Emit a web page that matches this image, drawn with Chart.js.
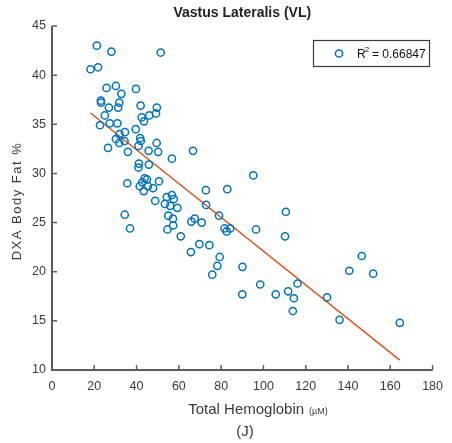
<!DOCTYPE html>
<html>
<head>
<meta charset="utf-8">
<script src="https://cdn.jsdelivr.net/npm/chart.js@4.4.0/dist/chart.umd.min.js"></script>
<style>
  html, body { margin: 0; padding: 0; background: #fff; }
  #wrap { width: 452px; height: 443px; }
</style>
</head>
<body>
<div id="wrap"><canvas id="vlChart" width="452" height="443"></canvas></div>
<script>
// Total hemoglobin (µM) vs DXA body fat (%) for the vastus lateralis
const hemoglobin = [21.2, 28.1, 51.4, 18.2, 21.8, 25.8, 30.2, 39.7, 32.8, 23.1,
  23.2, 31.8, 41.9, 26.9, 31.3, 49.6, 25.0, 42.4, 46.0, 49.2,
  43.5, 22.7, 27.3, 30.9, 34.5, 39.6, 30.2, 31.8, 34.3, 26.5,
  35.9, 41.7, 42.0, 40.9, 45.7, 49.5, 50.2, 56.7, 41.1, 40.9,
  45.8, 66.7, 35.6, 43.8, 44.9, 42.7, 41.5, 43.4, 45.4, 47.8,
  50.6, 48.8, 54.3, 56.7, 57.6, 55.9, 53.4, 59.3, 34.4, 55.0,
  57.2, 57.3, 54.6, 36.9, 60.9, 65.9, 67.5, 70.8, 69.7, 74.4,
  65.7, 72.8, 82.9, 72.9, 79.0, 81.6, 82.6, 84.3, 96.5, 79.3,
  78.2, 90.1, 75.8, 98.5, 90.0, 95.2, 110.6, 110.2, 146.5, 140.6,
  151.9, 116.1, 105.8, 111.7, 114.4, 130.1, 113.9, 136.0, 164.5, 31.9];
const bodyFat = [43.0, 42.4, 42.3, 40.6, 40.8, 38.7, 38.9, 38.6, 38.1, 37.4,
  37.2, 37.2, 36.9, 36.7, 36.7, 36.7, 35.9, 35.7, 35.9, 36.1,
  35.3, 34.9, 35.1, 35.1, 34.2, 34.5, 33.5, 33.1, 33.3, 32.6,
  32.2, 33.6, 33.3, 32.8, 32.3, 33.1, 32.2, 31.5, 31.0, 30.6,
  30.9, 32.3, 29.0, 29.5, 29.4, 29.1, 28.7, 28.2, 28.7, 28.5,
  29.2, 27.2, 27.6, 27.8, 27.4, 26.7, 26.9, 26.5, 25.8, 25.7,
  25.4, 24.7, 24.3, 24.4, 23.6, 25.1, 25.4, 25.0, 22.8, 22.7,
  22.0, 28.3, 28.4, 26.8, 25.7, 24.4, 24.1, 24.4, 24.3, 21.5,
  20.6, 20.5, 19.7, 18.7, 17.7, 29.8, 26.1, 23.6, 21.6, 20.1,
  19.8, 18.8, 17.7, 18.0, 17.3, 17.4, 16.0, 15.1, 14.8, 34.0];

// linear fit endpoints
const fitX = [18.2, 164.5];
const fitY = [36.15, 11.0];
const rSquared = '0.66847';

const xTicks = [0, 20, 40, 60, 80, 100, 120, 140, 160, 180];
const yTicks = [10, 15, 20, 25, 30, 35, 40, 45];

const NARROW = '"Liberation Sans Narrow", "Arial Narrow", "Liberation Sans", sans-serif';
const SANS = '"Liberation Sans", Arial, sans-serif';
const BLUE = '#0072BD';
const ORANGE = '#D95319';
const AXIS = '#5c5c5c';
const TEXT = '#3a3a3a';

// axis lines with inward ticks, titles and the boxed legend
const decor = {
  id: 'decor',
  afterDraw(chart) {
    const { ctx, chartArea: a, scales: { x, y } } = chart;
    ctx.save();

    ctx.strokeStyle = AXIS;
    ctx.lineWidth = 2;
    ctx.beginPath();
    ctx.moveTo(a.left, a.top);
    ctx.lineTo(a.left, a.bottom);
    ctx.lineTo(a.right, a.bottom);
    ctx.stroke();

    ctx.lineWidth = 1.5;
    ctx.beginPath();
    xTicks.forEach(v => {
      const px = x.getPixelForValue(v);
      ctx.moveTo(px, a.bottom);
      ctx.lineTo(px, a.bottom - 5);
    });
    yTicks.forEach(v => {
      const py = y.getPixelForValue(v);
      ctx.moveTo(a.left, py);
      ctx.lineTo(a.left + 5, py);
    });
    ctx.stroke();

    // chart title
    ctx.fillStyle = '#222';
    ctx.textAlign = 'center';
    ctx.textBaseline = 'middle';
    ctx.font = 'bold 14px ' + NARROW;
    ctx.fillText('Vastus Lateralis (VL)', (a.left + a.right) / 2, 13);

    // y axis title
    ctx.save();
    ctx.translate(17, (a.top + a.bottom) / 2 + 3);
    ctx.rotate(-Math.PI / 2);
    ctx.fillStyle = TEXT;
    ctx.font = '13px ' + SANS;
    ctx.letterSpacing = '1.5px';
    ctx.fillText('DXA Body Fat %', 0, 0);
    ctx.restore();

    // x axis title: main part plus a smaller unit
    ctx.fillStyle = TEXT;
    ctx.textAlign = 'left';
    ctx.textBaseline = 'alphabetic';
    ctx.font = '15px ' + NARROW;
    const main = 'Total Hemoglobin';
    const wMain = ctx.measureText(main).width;
    ctx.font = '9px ' + NARROW;
    const unit = '(µM)';
    const wUnit = ctx.measureText(unit).width;
    const total = wMain + 5 + wUnit;
    const x0 = 258 - total / 2;
    ctx.font = '15px ' + NARROW;
    ctx.fillText(main, x0, 414);
    ctx.font = '9px ' + NARROW;
    ctx.fillText(unit, x0 + wMain + 5, 414);

    ctx.textAlign = 'center';
    ctx.font = '15px ' + NARROW;
    ctx.fillText('(J)', 245, 436);

    // legend box
    const lx = 313.5, ly = 40.5, lw = 116, lh = 26;
    ctx.fillStyle = '#fff';
    ctx.fillRect(lx, ly, lw, lh);
    ctx.strokeStyle = '#3a3a3a';
    ctx.lineWidth = 1.2;
    ctx.strokeRect(lx, ly, lw, lh);

    ctx.strokeStyle = BLUE;
    ctx.lineWidth = 1.5;
    ctx.beginPath();
    ctx.arc(339, 53.5, 3.6, 0, Math.PI * 2);
    ctx.stroke();

    ctx.fillStyle = '#111';
    ctx.textAlign = 'left';
    ctx.font = '12px ' + NARROW;
    ctx.fillText('R', 357, 58);
    const wR = ctx.measureText('R').width;
    ctx.font = '8px ' + NARROW;
    ctx.fillText('2', 357 + wR - 1, 52);
    ctx.font = '12px ' + NARROW;
    ctx.fillText(' = ' + rSquared, 357 + wR + 3, 58);

    ctx.restore();
  }
};

const points = hemoglobin.map((v, i) => ({ x: v, y: bodyFat[i] }));
const fitLine = fitX.map((v, i) => ({ x: v, y: fitY[i] }));

const ctx = document.getElementById('vlChart').getContext('2d');
new Chart(ctx, {
  type: 'scatter',
  data: {
    datasets: [
      {
        label: 'VL',
        data: points,
        pointStyle: 'circle',
        pointRadius: 3.6,
        pointHoverRadius: 3.6,
        borderColor: BLUE,
        backgroundColor: 'rgba(0,0,0,0)',
        borderWidth: 1.5
      },
      {
        type: 'line',
        label: 'fit',
        data: fitLine,
        borderColor: ORANGE,
        borderWidth: 1.4,
        pointRadius: 0,
        fill: false,
        tension: 0
      }
    ]
  },
  options: {
    responsive: false,
    animation: false,
    events: [],
    layout: { padding: { top: 26, right: 11, left: 0, bottom: 0 } },
    plugins: {
      legend: { display: false },
      tooltip: { enabled: false }
    },
    scales: {
      x: {
        type: 'linear',
        min: 0,
        max: 180,
        afterFit(s) { s.height = 73; },
        afterBuildTicks(s) { s.ticks = xTicks.map(v => ({ value: v })); },
        grid: { display: false, drawTicks: false },
        border: { display: false },
        ticks: {
          padding: 9,
          maxRotation: 0,
          color: TEXT,
          font: { family: NARROW, size: 12.5 }
        }
      },
      y: {
        type: 'linear',
        min: 10,
        max: 45,
        afterFit(s) { s.width = 52; },
        afterBuildTicks(s) { s.ticks = yTicks.map(v => ({ value: v })); },
        grid: { display: false, drawTicks: false },
        border: { display: false },
        ticks: {
          padding: 6,
          color: TEXT,
          font: { family: NARROW, size: 12.5 }
        }
      }
    }
  },
  plugins: [decor]
});
</script>
</body>
</html>
